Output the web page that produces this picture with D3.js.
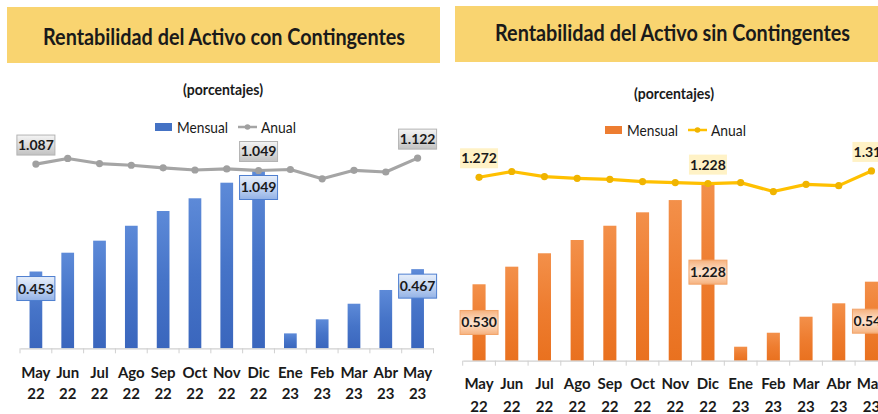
<!DOCTYPE html>
<html lang="es">
  <head>
    <meta charset="UTF-8" />
    <title>Rentabilidad del Activo</title>
    <script src="https://d3js.org/d3.v7.min.js"></script>
    <style>
      body { margin: 0; background: #fff; }
      svg { display: block; font-family: Lato, "Open Sans", sans-serif; }
    </style>
  </head>
  <body>
    <svg width="878" height="414"></svg>
    <script>
      // datos
      const categories = ["May 22", "Jun 22", "Jul 22", "Ago 22", "Sep 22", "Oct 22", "Nov 22",
                          "Dic 22", "Ene 23", "Feb 23", "Mar 23", "Abr 23", "May 23"];
      const mensualCon = [0.453, 0.564, 0.635, 0.723, 0.810, 0.885, 0.977, 1.049, 0.088, 0.171, 0.263, 0.344, 0.467];
      const anualCon = [1.087, 1.12, 1.09, 1.08, 1.065, 1.052, 1.058, 1.049, 1.055, 1.0, 1.05, 1.04, 1.122];
      const mensualSin = [0.530, 0.652, 0.745, 0.837, 0.936, 1.029, 1.114, 1.228, 0.097, 0.194, 0.305, 0.398, 0.548];
      const anualSin = [1.272, 1.312, 1.277, 1.265, 1.258, 1.242, 1.235, 1.228, 1.235, 1.173, 1.223, 1.214, 1.316];
      const labeled = [0, 7, 12];
      const fmt = d3.format(".3f");

      let svg = d3.select("svg");
      let defs = svg.append("defs");

      function vGrad(id, stops) {
        let g = defs.append("linearGradient").attr("id", id)
          .attr("x1", "0%").attr("y1", "0%").attr("x2", "0%").attr("y2", "100%");
        stops.forEach((c, i) => g.append("stop")
          .attr("offset", (i / (stops.length - 1)) * 100 + "%").attr("stop-color", c));
      }
      vGrad("barBlue", ["#5d8ad8", "#4674c8", "#3a66bd"]);
      vGrad("barOrange", ["#f3904a", "#ee7d30", "#e9711f"]);
      vGrad("boxGray", ["#f4f4f4", "#dcdcdc", "#c2c2c2"]);
      vGrad("boxBlue", ["#e6eefa", "#c3d5f2", "#93b2e6"]);
      vGrad("boxOrange", ["#f6b27e", "#fde3cf", "#f6b27e"]);

      const panels = [
        {
          title: "Rentabilidad del Activo con Contingentes",
          banner: [7, 7, 433, 56], titleX: 224, titleY: 45, titleW: 362,
          subX: 223, subY: 95, legendY: 127, legendX: 155,
          range: [20, 433.5], base: 348.3, perUnit: 169.5, labY: [378, 399],
          mensual: mensualCon, anual: anualCon,
          bar: "url(#barBlue)", legendBar: "#4472c4", line: "#a5a5a5", marker: "#a0a0a0",
          lineBox: "url(#boxGray)", lineBoxStroke: "#b3b3b3",
          barBox: "url(#boxBlue)", barBoxStroke: "#4f7fd0", barLabel: "end"
        },
        {
          title: "Rentabilidad del Activo sin Contingentes",
          banner: [455, 6, 423, 56], titleX: 672.5, titleY: 41, titleW: 355,
          subX: 674, subY: 99, legendY: 130, legendX: 605,
          range: [462.7, 887.8], base: 360.7, perUnit: 144.2, labY: [389, 412],
          mensual: mensualSin, anual: anualSin,
          bar: "url(#barOrange)", legendBar: "#ed7d31", line: "#ffc000", marker: "#f0b400",
          lineBox: "#fff2c6", lineBoxStroke: "none",
          barBox: "url(#boxOrange)", barBoxStroke: "#f2a46a", barLabel: "center"
        }
      ];

      panels.forEach((p) => {
        let g = svg.append("g");

        // banner del titulo
        g.append("rect")
          .attr("x", p.banner[0]).attr("y", p.banner[1])
          .attr("width", p.banner[2]).attr("height", p.banner[3])
          .attr("fill", "#f9d470");
        g.append("text")
          .attr("x", p.titleX).attr("y", p.titleY)
          .attr("text-anchor", "middle")
          .attr("font-size", 23).attr("font-weight", "bold").attr("fill", "#1a1a1a")
          .attr("textLength", p.titleW).attr("lengthAdjust", "spacingAndGlyphs")
          .text(p.title);

        g.append("text")
          .attr("x", p.subX).attr("y", p.subY)
          .attr("text-anchor", "middle")
          .attr("font-size", 16).attr("font-weight", "bold").attr("fill", "#1a1a1a")
          .attr("textLength", 80).attr("lengthAdjust", "spacingAndGlyphs")
          .text("(porcentajes)");

        // leyenda
        let lg = g.append("g").attr("transform", `translate(${p.legendX},${p.legendY})`);
        lg.append("rect").attr("x", 0).attr("y", -4).attr("width", 17).attr("height", 8)
          .attr("fill", p.legendBar);
        lg.append("text").attr("x", 22).attr("y", 5.5).attr("font-size", 15).attr("fill", "#1a1a1a")
          .attr("textLength", 51).attr("lengthAdjust", "spacingAndGlyphs").text("Mensual");
        lg.append("line").attr("x1", 83).attr("x2", 102).attr("y1", 0).attr("y2", 0)
          .attr("stroke", p.line).attr("stroke-width", 2.5);
        lg.append("circle").attr("cx", 92.5).attr("cy", 0).attr("r", 2.8).attr("fill", p.marker);
        lg.append("text").attr("x", 106).attr("y", 5.5).attr("font-size", 15).attr("fill", "#1a1a1a")
          .attr("textLength", 35).attr("lengthAdjust", "spacingAndGlyphs").text("Anual");

        // escalas
        let x = d3.scaleBand().domain(categories).range(p.range);
        let y = d3.scaleLinear().domain([0, 1]).range([p.base, p.base - p.perUnit]);
        let cx = (d) => x(d) + x.bandwidth() / 2;
        let bw = x.bandwidth() * 0.4;

        // barras
        g.append("g").selectAll("rect")
          .data(p.mensual)
          .join("rect")
          .attr("x", (d, i) => cx(categories[i]) - bw / 2)
          .attr("y", (d) => y(d))
          .attr("width", bw)
          .attr("height", (d) => y(0) - y(d))
          .attr("fill", p.bar);

        // eje x
        let ax = g.append("g")
          .attr("transform", `translate(0,${p.base})`)
          .call(d3.axisBottom(x).tickSize(0).tickSizeOuter(0));
        ax.select(".domain").attr("stroke", "#d0d0d0").attr("stroke-width", 1.2);
        ax.selectAll(".tick text").remove();
        g.append("g").selectAll("line")
          .data(categories.concat([null]))
          .join("line")
          .attr("x1", (d) => (d ? x(d) : p.range[1]))
          .attr("x2", (d) => (d ? x(d) : p.range[1]))
          .attr("y1", p.base).attr("y2", p.base + 5)
          .attr("stroke", "#d0d0d0");
        let tl = g.append("g").selectAll("text")
          .data(categories)
          .join("text")
          .attr("text-anchor", "middle")
          .attr("font-size", 15).attr("font-weight", "bold").attr("fill", "#1a1a1a");
        tl.append("tspan").attr("x", cx).attr("y", p.labY[0]).text((d) => d.split(" ")[0]);
        tl.append("tspan").attr("x", cx).attr("y", p.labY[1]).text((d) => d.split(" ")[1]);

        // linea anual
        let line = d3.line().x((d, i) => cx(categories[i])).y((d) => y(d));
        g.append("path")
          .datum(p.anual)
          .attr("d", line)
          .attr("fill", "none")
          .attr("stroke", p.line)
          .attr("stroke-width", 3.2)
          .attr("stroke-linejoin", "round");
        g.append("g").selectAll("circle")
          .data(p.anual)
          .join("circle")
          .attr("cx", (d, i) => cx(categories[i]))
          .attr("cy", (d) => y(d))
          .attr("r", 3.6)
          .attr("fill", p.marker);

        // etiquetas de datos
        function box(px, py, h, val, fill, stroke) {
          let b = g.append("g").attr("transform", `translate(${px},${py})`);
          b.append("rect").attr("x", -19).attr("y", -h / 2).attr("width", 38).attr("height", h)
            .attr("fill", fill).attr("stroke", stroke).attr("stroke-width", 1);
          b.append("text").attr("text-anchor", "middle").attr("y", 5)
            .attr("font-size", 14).attr("font-weight", "bold").attr("fill", "#1a1a1a")
            .text(fmt(val));
        }
        labeled.forEach((i) => {
          let c = cx(categories[i]);
          let v = p.mensual[i];
          let by = p.barLabel === "end" ? y(v) + 17 : (y(v) + y(0)) / 2;
          box(c, by, 24, v, p.barBox, p.barBoxStroke);
          box(c, y(p.anual[i]) - 19, 20, p.anual[i], p.lineBox, p.lineBoxStroke);
        });
      });
    </script>
  </body>
</html>
